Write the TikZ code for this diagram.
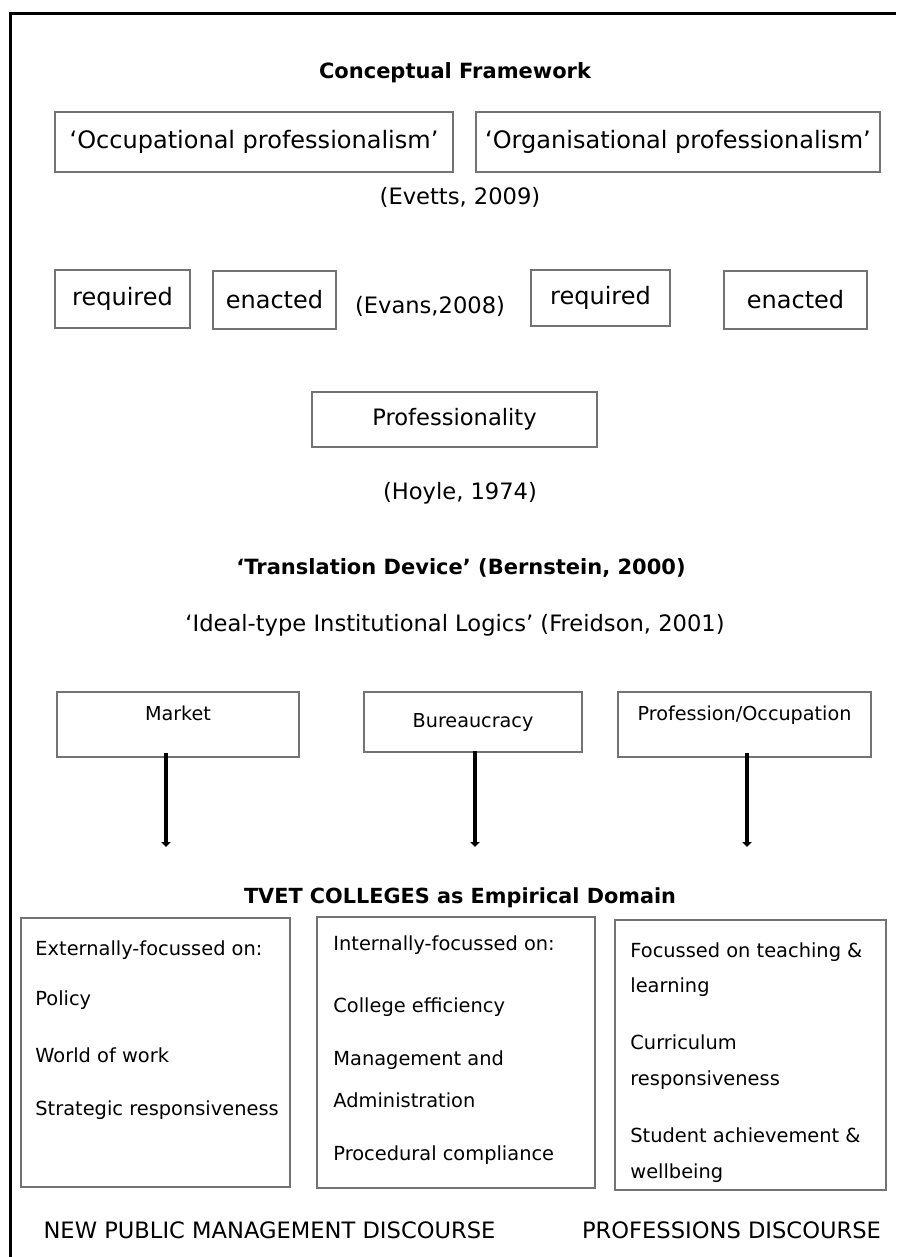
\documentclass[tikz,border=0pt]{standalone}
\usepackage{fontspec}
\setmainfont{DejaVu Sans}
\usetikzlibrary{arrows.meta,positioning,calc}

\begin{document}
\begin{tikzpicture}[x=0.5pt,y=-0.5pt,
  box/.style={draw=black!55,line width=0.7pt,shape=rectangle,inner sep=0pt,outer sep=0pt},
  heading/.style={inner sep=0pt,font=\bfseries\fontsize{10.5pt}{12pt}\selectfont},
  boxtext/.style={font=\fontsize{12pt}{14pt}\selectfont},
  citetext/.style={inner sep=0pt,font=\fontsize{11.3pt}{13pt}\selectfont},
  logictext/.style={font=\fontsize{9.6pt}{11pt}\selectfont},
  coltext/.style={inner sep=0pt,anchor=west,font=\fontsize{9.7pt}{11pt}\selectfont},
  discourse/.style={inner sep=0pt,font=\fontsize{11.3pt}{13pt}\selectfont},
  flow/.style={line width=2.2pt,-{Triangle[width=4.6pt,length=2.5pt]}}]
\useasboundingbox (0,0) rectangle (896,1257);
\draw[line width=1.5pt] (10,1257) -- (10,14) -- (896,14);
\node[heading] (title) at (455,73) {Conceptual Framework};
\node[box,boxtext,minimum width=199pt,minimum height=30pt] (occ) at (254,142) {‘Occupational professionalism’};
\node[box,boxtext,minimum width=202pt,minimum height=30pt] (org) at (678,142) {‘Organisational professionalism’};
\node[citetext] (evetts) at (460,197) {(Evetts, 2009)};
\node[box,boxtext,minimum width=67.5pt,minimum height=29pt] (req1) at (122.5,299) {required};
\node[box,boxtext,minimum width=61.5pt,minimum height=29pt] (ena1) at (274.5,300) {enacted};
\node[citetext] (evans) at (430,306) {(Evans,2008)};
\node[box,boxtext,minimum width=69.5pt,minimum height=28pt] (req2) at (600.5,298) {required};
\node[box,boxtext,minimum width=71.5pt,minimum height=29pt] (ena2) at (795.5,300) {enacted};
\node[box,citetext,minimum width=142.5pt,minimum height=27.5pt] (profty) at (454.5,419.5) {Professionality};
\node[citetext] (hoyle) at (460,493) {(Hoyle, 1974)};
\node[heading] (device) at (461,568) {‘Translation Device’ (Bernstein, 2000)};
\node[citetext] (logics) at (455,625) {‘Ideal-type Institutional Logics’ (Freidson, 2001)};
% logics boxes
\node[box,minimum width=121pt,minimum height=32.5pt,label={[logictext,anchor=north,yshift=-3.3pt]north:Market}] (market) at (178,724.5) {};
\node[box,logictext,minimum width=109pt,minimum height=30pt] (bureau) at (473,722) {Bureaucracy};
\node[box,minimum width=126.5pt,minimum height=32.5pt,label={[logictext,anchor=north,yshift=-3.3pt]north:Profession/Occupation}] (profocc) at (744.5,724.5) {};
\coordinate (mend) at (166,847);
\coordinate (bend) at (475,847);
\coordinate (pend) at (747,847);
\draw[flow] ($(market.south -| mend)+(0,-4)$) -- (mend);
\draw[flow] ($(bureau.south -| bend)+(0,-1)$) -- (bend);
\draw[flow] ($(profocc.south -| pend)+(0,-4)$) -- (pend);
\node[heading,font=\bfseries\fontsize{10.4pt}{12pt}\selectfont] (tvet) at (460,898) {TVET COLLEGES as Empirical Domain};
% empirical domain columns
\node[box,minimum width=134.5pt,minimum height=134.5pt] (market col) at (155.5,1052.5) {};
\node[box,minimum width=139pt,minimum height=135.5pt] (bureau col) at (456,1052.5) {};
\node[box,minimum width=135.5pt,minimum height=135pt] (prof col) at (750.5,1055) {};
\node[coltext] (m1) at (35,950) {Externally-focussed on:};
\node[coltext] (m2) at (35,1000) {Policy};
\node[coltext] (m3) at (35,1055) {World of work};
\node[coltext] (m4) at (35,1110) {Strategic responsiveness};
\node[coltext] (b1) at (333,945) {Internally-focussed on:};
\node[coltext] (b2) at (333,1007) {College efficiency};
\node[coltext] (b3) at (333,1060) {Management and};
\node[coltext] (b4) at (333,1100) {Administration};
\node[coltext] (b5) at (333,1155) {Procedural compliance};
\node[coltext] (p1) at (630,952) {Focussed on teaching \&};
\node[coltext] (p2) at (630,987) {learning};
\node[coltext] (p3) at (630,1042) {Curriculum};
\node[coltext] (p4) at (630,1080) {responsiveness};
\node[coltext] (p5) at (630,1135) {Student achievement \&};
\node[coltext] (p6) at (630,1173) {wellbeing};
\node[discourse] (npm) at (269.5,1230) {NEW PUBLIC MANAGEMENT DISCOURSE};
\node[discourse] (profdisc) at (731.5,1230) {PROFESSIONS DISCOURSE};
\end{tikzpicture}
\end{document}
